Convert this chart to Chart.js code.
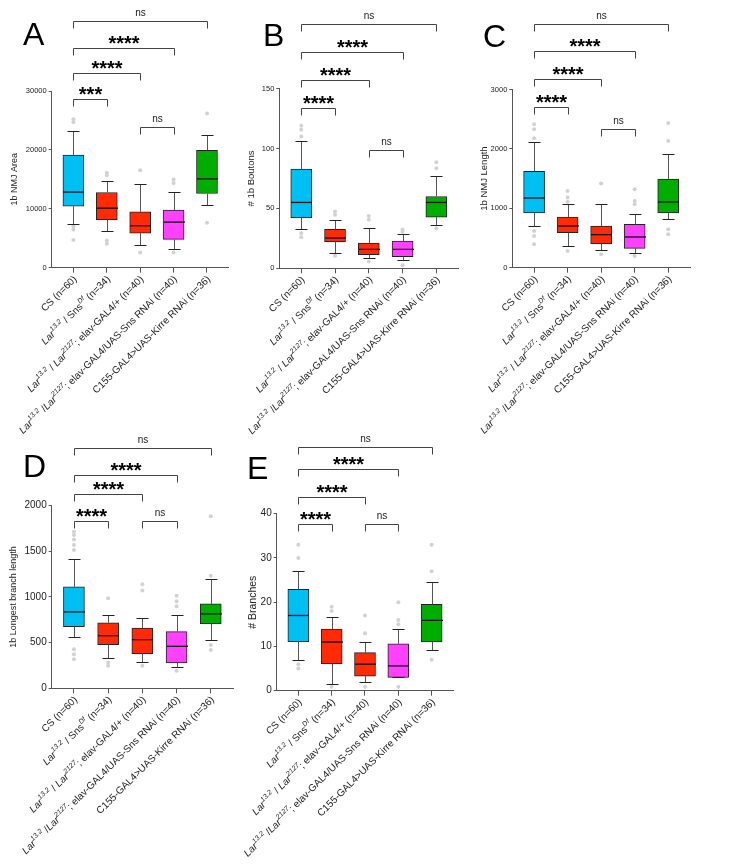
<!DOCTYPE html>
<html>
<head>
<meta charset="utf-8">
<script src="https://cdn.jsdelivr.net/npm/chart.js@4.4.1/dist/chart.umd.min.js"></script>
<style>
  html, body { margin: 0; padding: 0; background: #fff; }
  #fig { position: relative; width: 730px; height: 866px; overflow: hidden; }
  #fig canvas { position: absolute; }
</style>
</head>
<body>
<div id="fig"></div>
<script>
'use strict';

// ── Data ──────────────────────────────────────────────────────────────────────
// tick labels: [text, flags]  i = italic, s = superscript
const groupLabels = [
    [['CS (n=60)', '']],
    [['Lar', 'i'], ['13.2', 'si'], [' / Sns', ''], ['Df', 'si'], [' (n=34)', '']],
    [['Lar', 'i'], ['13.2', 'si'], [' / ', ''], ['Lar', 'i'], ['2127', 'si'], ['; elav-GAL4/+ (n=40)', '']],
    [['Lar', 'i'], ['13.2', 'si'], [' /', ''], ['Lar', 'i'], ['2127', 'si'], ['; elav-GAL4/UAS-Sns RNAi (n=40)', '']],
    [['C155-GAL4>UAS-Kirre RNAi (n=36)', '']],
];
const groupColors  = ['#00bff3', '#ff2a06', '#ff2a06', '#ff40ff', '#00ad00'];
const bracketPairs = [[0, 1], [0, 2], [0, 3], [0, 4], [2, 3]];

// A – 1b NMJ Area
const areaLow      = [7400, 6160, 3790, 3220, 10620];
const areaQ1       = [10450, 8140, 5880, 4800, 12600];
const areaMedian   = [12850, 10110, 7120, 7740, 15080];
const areaQ3       = [19100, 12770, 9490, 9770, 19940];
const areaHigh     = [23270, 14750, 14180, 12880, 22490];
const areaOutliers = [[25200, 24700, 7050, 6500, 4700], [16100, 15700, 4630, 4070], [16550, 2600], [14970, 14400, 2600], [26160, 7630]];
const areaBracketY = [28600, 33110, 37360, 41890, 23890];
const areaBracketText = ['***', '****', '****', 'ns', 'ns'];

// B – # 1b Boutons
const boutonLow      = [32.5, 12.5, 8.3, 6.7, 35.8];
const boutonQ1       = [42.2, 22.2, 11.4, 9.7, 42.8];
const boutonMedian   = [55, 25.3, 15.8, 15.8, 55];
const boutonQ3       = [82.8, 32.5, 21.1, 22.8, 60];
const boutonHigh     = [106.7, 40.6, 33.6, 28.3, 76.7];
const boutonOutliers = [[119, 115.7, 110, 29.3, 26], [47.5, 44.7, 10.5], [43.6, 40.5, 5.6], [32.2, 30.5, 2.5], [88.6, 83.6, 33.5]];
const boutonBracketY = [133.9, 157, 180.7, 204, 98.4];
const boutonBracketText = ['****', '****', '****', 'ns', 'ns'];

// C – 1b NMJ Length
const lengthLow      = [702, 371, 298, 247, 826];
const lengthQ1       = [921, 590, 404, 326, 921];
const lengthMedian   = [1174, 702, 556, 517, 1107];
const lengthQ3       = [1624, 854, 702, 730, 1494];
const lengthHigh     = [2112, 1067, 1073, 910, 1910];
const lengthOutliers = [[2416, 2331, 2180, 618, 534, 393], [1292, 1180, 1110, 281], [1416, 225], [1320, 1124, 1067, 197], [2438, 2135, 646, 562]];
const lengthBracketY = [2708, 3174, 3645, 4111, 2328];
const lengthBracketText = ['****', '****', '****', 'ns', 'ns'];

// D – 1b Longest branch length
const branchLow      = [562, 330, 290, 228, 529];
const branchQ1       = [674, 478, 380, 279, 707];
const branchMedian   = [837, 576, 533, 460, 815];
const branchQ3       = [1112, 717, 659, 620, 924];
const branchHigh     = [1417, 804, 768, 808, 1196];
const branchOutliers = [[1714, 1678, 1630, 1569, 1514, 428, 373, 319], [986, 283, 246], [1141, 1072, 246], [1014, 953, 899, 192], [1884, 1232, 475, 420]];
const branchBracketY = [1832, 2125, 2336, 2637, 1832];
const branchBracketText = ['****', '****', '****', 'ns', 'ns'];

// E – # Branches
const countLow      = [7, 1.6, 2, 3, 9.2];
const countQ1       = [11.1, 6.1, 3.3, 3, 11];
const countMedian   = [17, 11, 6, 5.6, 15.9];
const countQ3       = [22.9, 13.9, 8.6, 10.6, 19.5];
const countHigh     = [27, 16.7, 10.9, 13.9, 24.6];
const countOutliers = [[33, 30, 6, 5], [19, 18, 0.9], [17, 13, 0.9], [20, 16, 15, 0.9], [33, 27, 7]];
const countBracketY = [37.6, 43.8, 50.0, 55.1, 37.6];
const countBracketText = ['****', '****', '****', 'ns', 'ns'];

// ── Panel layout ──────────────────────────────────────────────────────────────
const FONT = '"Liberation Sans", Arial, sans-serif';
Chart.defaults.font.family = FONT;
Chart.defaults.color = '#222';

const panels = [
    { key: 'A', title: '1b NMJ Area', left: 0, top: 0, width: 240, height: 440,
      area: [51.7, 91, 228.7, 267.7], titleX: 15, letterAt: [23, 45], tickFont: 7.5, titleFont: 9,
      yMax: 30000, yStep: 10000,
      low: areaLow, q1: areaQ1, median: areaMedian, q3: areaQ3, high: areaHigh, outliers: areaOutliers,
      bracketY: areaBracketY, bracketText: areaBracketText },
    { key: 'B', title: '# 1b Boutons', left: 240, top: 0, width: 240, height: 440,
      area: [279.3, 88.7, 458.3, 268.3], titleX: 251.7, letterAt: [263, 46], tickFont: 7.5, titleFont: 9.5,
      yMax: 150, yStep: 50,
      low: boutonLow, q1: boutonQ1, median: boutonMedian, q3: boutonQ3, high: boutonHigh, outliers: boutonOutliers,
      bracketY: boutonBracketY, bracketText: boutonBracketText },
    { key: 'C', title: '1b NMJ Length', left: 470, top: 0, width: 260, height: 440,
      area: [512.3, 89.5, 690, 267.7], titleX: 484, letterAt: [483, 47], tickFont: 7.5, titleFont: 9.5,
      yMax: 3000, yStep: 1000,
      low: lengthLow, q1: lengthQ1, median: lengthMedian, q3: lengthQ3, high: lengthHigh, outliers: lengthOutliers,
      bracketY: lengthBracketY, bracketText: lengthBracketText },
    { key: 'D', title: '1b Longest branch length', left: 0, top: 425, width: 240, height: 441,
      area: [51.7, 505.7, 233, 688.3], titleX: 14, letterAt: [23, 477], tickFont: 10, titleFont: 9,
      yMax: 2000, yStep: 500,
      low: branchLow, q1: branchQ1, median: branchMedian, q3: branchQ3, high: branchHigh, outliers: branchOutliers,
      bracketY: branchBracketY, bracketText: branchBracketText },
    { key: 'E', title: '# Branches', left: 240, top: 425, width: 240, height: 441,
      area: [276.7, 513.7, 453.3, 690.7], titleX: 252.7, letterAt: [247, 479], tickFont: 10, titleFont: 10.5,
      yMax: 40, yStep: 10,
      low: countLow, q1: countQ1, median: countMedian, q3: countQ3, high: countHigh, outliers: countOutliers,
      bracketY: countBracketY, bracketText: countBracketText },
];

// ── Helpers ───────────────────────────────────────────────────────────────────
const crisp = v => Math.round(v) + 0.5;

// rotated tick label made of italic / superscript pieces, right end at the origin
function drawRichLabel(ctx, segs, size) {
    let total = 0;
    const parts = segs.map(([text, flags]) => {
        const sup  = flags.includes('s');
        const ital = flags.includes('i');
        const fs   = sup ? size * 0.7 : size;
        const font = `${ital ? 'italic ' : ''}${fs}px ${FONT}`;
        ctx.font = font;
        const w = ctx.measureText(text).width;
        total += w;
        return { text, font, w, dy: sup ? -size * 0.38 : 0 };
    });
    let x = -total;
    parts.forEach(p => {
        ctx.font = p.font;
        ctx.fillText(p.text, x, p.dy);
        x += p.w;
    });
}

// whiskers, caps, medians + brackets, letters, x labels
function panelPlugin(p) {
    return {
        id: 'panel' + p.key,
        afterDatasetsDraw(chart) {
            const { ctx, scales: { x, y } } = chart;
            ctx.save();
            p.low.forEach((lo, i) => {
                const px  = crisp(x.getPixelForValue(i));
                const yHi = crisp(y.getPixelForValue(p.high[i]));
                const yQ3 = y.getPixelForValue(p.q3[i]);
                const yQ1 = y.getPixelForValue(p.q1[i]);
                const yLo = crisp(y.getPixelForValue(lo));
                ctx.lineWidth = 1;
                ctx.strokeStyle = '#555';
                ctx.beginPath();
                ctx.moveTo(px, yQ3); ctx.lineTo(px, yHi);
                ctx.moveTo(px, yQ1); ctx.lineTo(px, yLo);
                ctx.stroke();
                ctx.strokeStyle = '#222';
                ctx.beginPath();
                ctx.moveTo(px - 6, yHi); ctx.lineTo(px + 6, yHi);
                ctx.moveTo(px - 6, yLo); ctx.lineTo(px + 6, yLo);
                ctx.stroke();
                const yMed = y.getPixelForValue(p.median[i]);
                ctx.strokeStyle = '#111';
                ctx.lineWidth = 1.3;
                ctx.beginPath();
                ctx.moveTo(px - 10.5, yMed); ctx.lineTo(px + 10.5, yMed);
                ctx.stroke();
            });
            ctx.restore();
        },
        afterDraw(chart) {
            const { ctx, chartArea, scales: { x, y } } = chart;
            ctx.save();

            // panel letter
            ctx.fillStyle = '#000';
            ctx.font = `32px ${FONT}`;
            ctx.textAlign = 'left';
            ctx.textBaseline = 'alphabetic';
            ctx.fillText(p.key, p.letterAt[0] - p.left, p.letterAt[1] - p.top);

            // significance brackets
            bracketPairs.forEach(([a, b], j) => {
                const x1 = crisp(x.getPixelForValue(a));
                const x2 = crisp(x.getPixelForValue(b));
                const yb = crisp(y.getPixelForValue(p.bracketY[j]));
                ctx.strokeStyle = '#444';
                ctx.lineWidth = 1;
                ctx.beginPath();
                ctx.moveTo(x1, yb + 7); ctx.lineTo(x1, yb);
                ctx.lineTo(x2, yb); ctx.lineTo(x2, yb + 7);
                ctx.stroke();
                const label = p.bracketText[j];
                ctx.textAlign = 'center';
                ctx.textBaseline = 'alphabetic';
                ctx.fillStyle = '#000';
                if (label === 'ns') {
                    ctx.font = `10px ${FONT}`;
                    ctx.fillStyle = '#222';
                    ctx.fillText(label, (x1 + x2) / 2, yb - 6);
                } else {
                    ctx.font = `bold 20px ${FONT}`;
                    ctx.fillText(label, (x1 + x2) / 2, yb + 1.5);
                }
            });

            // rotated category labels
            ctx.fillStyle = '#222';
            ctx.textAlign = 'left';
            ctx.textBaseline = 'middle';
            groupLabels.forEach((segs, i) => {
                ctx.save();
                ctx.translate(x.getPixelForValue(i) + 2, chartArea.bottom + 10);
                ctx.rotate(-Math.PI / 4);
                drawRichLabel(ctx, segs, 10);
                ctx.restore();
            });
            ctx.restore();
        }
    };
}

// ── Build charts ──────────────────────────────────────────────────────────────
const fig = document.getElementById('fig');

panels.forEach(p => {
    const cv = document.createElement('canvas');
    cv.width = p.width;
    cv.height = p.height;
    cv.style.left = p.left + 'px';
    cv.style.top = p.top + 'px';
    cv.style.width = p.width + 'px';
    cv.style.height = p.height + 'px';
    fig.appendChild(cv);

    const [L, T, R, B] = p.area;
    const padLeft = p.titleX - p.left - p.titleFont * 1.2 / 2;
    const yAxisW  = L - p.left - padLeft;
    const xAxisH  = 5;

    new Chart(cv, {
        type: 'bar',
        data: {
            datasets: [
                {
                    type: 'bar',
                    data: p.q1.map((q, i) => ({ x: i, y: [q, p.q3[i]] })),
                    backgroundColor: groupColors,
                    borderColor: '#222',
                    borderWidth: 1,
                    borderSkipped: false,
                    barThickness: 21
                },
                {
                    type: 'scatter',
                    data: p.outliers.flatMap((vals, i) => vals.map(v => ({ x: i, y: v }))),
                    showLine: false,
                    pointRadius: 2,
                    pointBackgroundColor: '#d2d2d2',
                    pointBorderWidth: 0
                }
            ]
        },
        options: {
            responsive: false,
            animation: false,
            devicePixelRatio: 1,
            layout: {
                padding: {
                    left: padLeft,
                    top: T - p.top,
                    right: p.left + p.width - R,
                    bottom: p.height - xAxisH - (B - p.top)
                }
            },
            plugins: { legend: { display: false }, tooltip: { enabled: false } },
            scales: {
                x: {
                    type: 'linear',
                    min: -0.65,
                    max: 4.65,
                    offset: false,
                    grid: { display: true, drawOnChartArea: false, drawTicks: true, tickLength: 5, color: '#555', offset: false },
                    border: { display: true, color: '#555', width: 1 },
                    ticks: { display: false },
                    afterBuildTicks: s => { s.ticks = groupLabels.map((_, i) => ({ value: i })); },
                    afterFit: s => { s.height = xAxisH; }
                },
                y: {
                    min: 0,
                    max: p.yMax,
                    ticks: {
                        stepSize: p.yStep,
                        font: { size: p.tickFont },
                        color: '#222',
                        padding: 2,
                        callback: v => String(v)
                    },
                    grid: { drawOnChartArea: false, drawTicks: true, tickLength: 3, color: '#555' },
                    border: { display: true, color: '#555', width: 1 },
                    title: { display: true, text: p.title, font: { size: p.titleFont }, color: '#222', padding: 0 },
                    afterFit: s => { s.width = yAxisW; }
                }
            }
        },
        plugins: [panelPlugin(p)]
    });
});
</script>
</body>
</html>
